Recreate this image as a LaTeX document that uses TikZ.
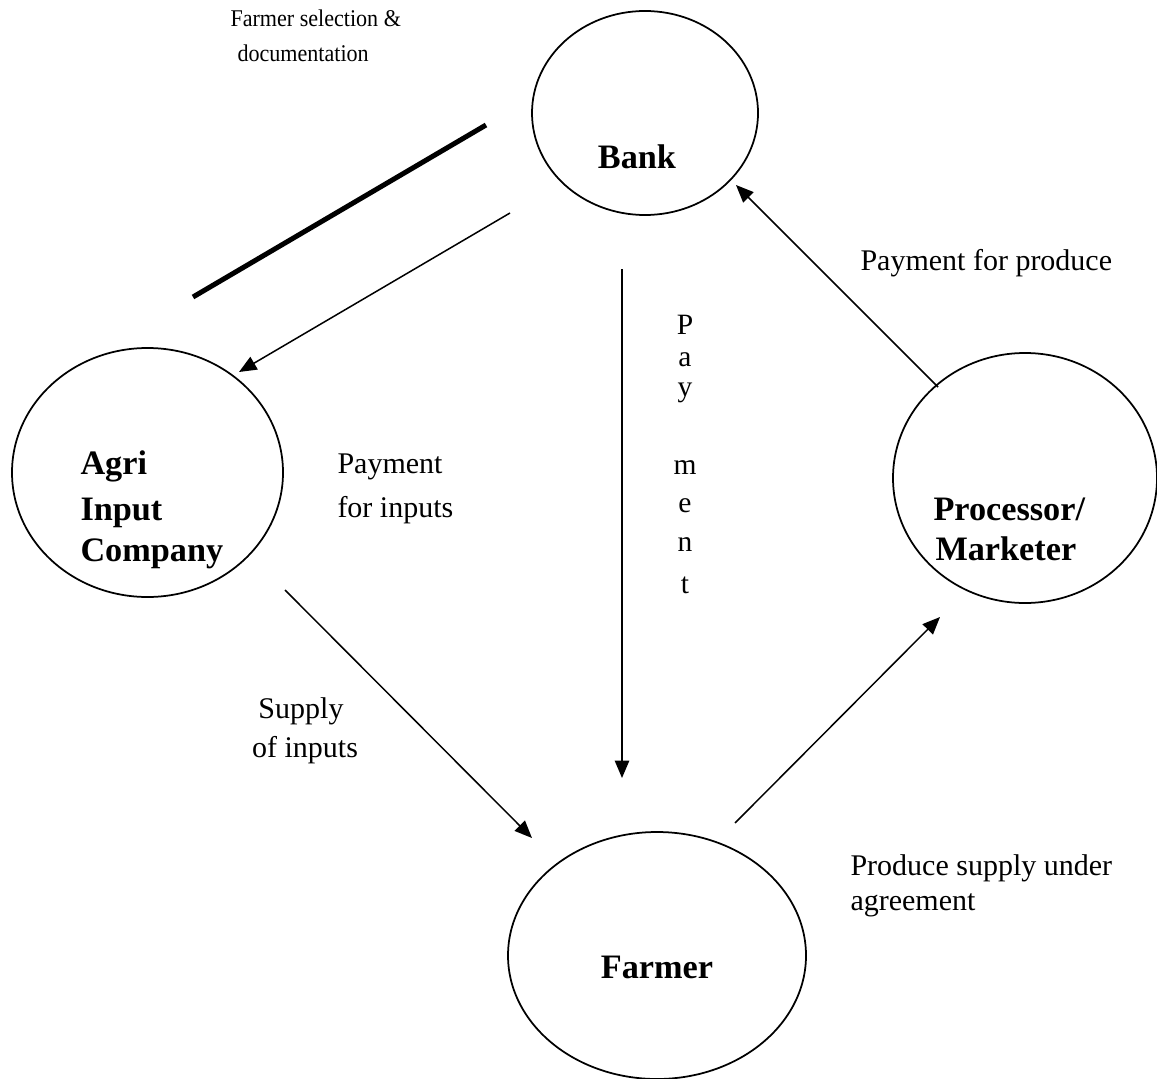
\documentclass[tikz,border=0pt]{standalone}
\usepackage{fontspec}
\setmainfont{Liberation Serif}
\usetikzlibrary{arrows.meta,shapes.geometric}
\newcommand\narrowtxt[1]{\scalebox{0.92}[1]{#1}}
\begin{document}
\begin{tikzpicture}[x=0.4pt,y=-0.4pt,
  actor/.style={draw,ellipse,line width=0.7pt,inner sep=0pt},
  flow/.style={line width=0.6pt,-{Triangle[length=7pt,width=5.8pt]}},
  lbl/.style={font=\fontsize{12}{14}\selectfont,inner sep=0pt},
  slbl/.style={font=\fontsize{9.6}{12}\selectfont,inner sep=0pt},
  vlbl/.style={font=\fontsize{11.8}{13}\selectfont,inner sep=0pt,anchor=base},
  blbl/.style={font=\fontsize{13.7}{16}\selectfont\bfseries,inner sep=0pt}]
\useasboundingbox (0,0) rectangle (1157,1078);

% ellipses
\node[actor,minimum width=90.4pt,minimum height=81.6pt] (bank) at (645,113) {};
\node[actor,minimum width=108.4pt,minimum height=99.6pt] (agri) at (147.5,472.5) {};
\node[actor,minimum width=105.6pt,minimum height=100pt] (proc) at (1025,478) {};
\node[actor,minimum width=119.2pt,minimum height=98.8pt] (farmer) at (657,955.5) {};

% bold labels
\node[blbl,anchor=base] (banktxt) at (637,169) {Bank};
\node[blbl,anchor=base west] (agri1) at (80,474) {Agri};
\node[blbl,anchor=base west] (agri2) at (80,520) {Input};
\node[blbl,anchor=base west] (agri3) at (80,561) {Company};
\node[blbl,anchor=base west] (proc1) at (933,520) {Processor/};
\node[blbl,anchor=base west] (proc2) at (935,560) {Marketer};
\node[blbl,anchor=base] (farmertxt) at (657,978) {Farmer};

% connector end points
\coordinate (thickA) at (193,297);
\coordinate (thickB) at (486,125);
\coordinate (bankL) at (510,213);
\coordinate (agriTip) at (239,372);
\coordinate (bankD) at (622,269);
\coordinate (farmTop) at (622,778);
\coordinate (agriLow) at (285,590);
\coordinate (farmTip) at (532,838);
\coordinate (farmUp) at (735,823);
\coordinate (procTip) at (940,617);
\coordinate (procUp) at (938,387);
\coordinate (bankTip) at (736,185);

% connectors
\draw[line width=2pt] (thickA) -- (thickB);
\draw[flow] (bankL) -- (agriTip);
\draw[flow] (bankD) -- (farmTop);
\draw[flow] (agriLow) -- (farmTip);
\draw[flow] (farmUp) -- (procTip);
\draw[flow] (procUp) -- (bankTip);

% text labels
\node[slbl,anchor=base west] (sel1) at (230,27) {\narrowtxt{Farmer selection \&}};
\node[slbl,anchor=base west] (sel2) at (237,62) {\narrowtxt{documentation}};
\node[lbl,anchor=base west] (pfp) at (860,270) {Payment for produce};
\node[lbl,anchor=base west] (pfi1) at (337,473) {Payment};
\node[lbl,anchor=base west] (pfi2) at (337,517) {for inputs};
\node[lbl,anchor=base] (soi1) at (301,718) {Supply};
\node[lbl,anchor=base] (soi2) at (305,757) {of inputs};
\node[lbl,anchor=base west] (psa1) at (850,875) {Produce supply under};
\node[lbl,anchor=base west] (psa2) at (850,910) {agreement};

\foreach \c/\yy [count=\i] in {P/334,a/366,y/396,m/474,e/512,n/551,t/593}
  \node[vlbl] (pay\i) at (685,\yy) {\c};
\end{tikzpicture}
\end{document}
